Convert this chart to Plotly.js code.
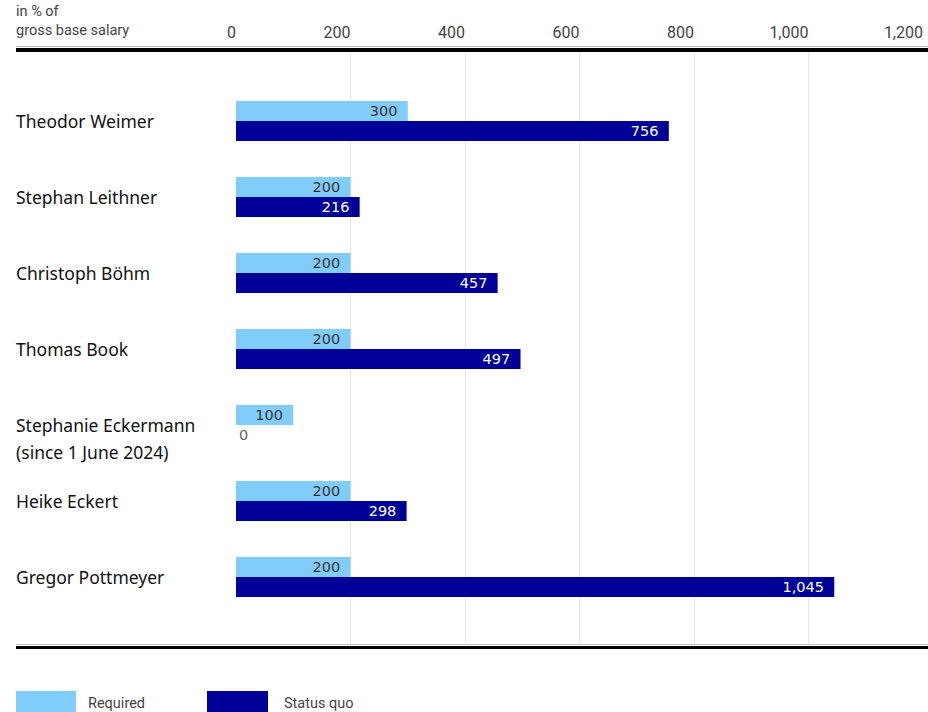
<!DOCTYPE html>
<html>
<head>
<meta charset="utf-8">
<script src="https://cdn.plot.ly/plotly-3.0.1.min.js"></script>
<style>html,body{margin:0;padding:0;background:#fff;}#chart{width:928px;height:712px;}</style>
</head>
<body>
<div id="chart"></div>
<script>
const categories = [
  "Theodor Weimer",
  "Stephan Leithner",
  "Christoph Böhm",
  "Thomas Book",
  "Stephanie Eckermann<br>(since 1 June 2024)",
  "Heike Eckert",
  "Gregor Pottmeyer"
];
const required = [300, 200, 200, 200, 100, 200, 200];
const statusQuo = [756, 216, 457, 497, 0, 298, 1045];
const tickVals = [0, 200, 400, 600, 800, 1000, 1200];
const seriesNames = ["Required", "Status quo"];
const axisNote = "in % of<br>gross base salary";

const W = 928, H = 712;
const M = {l: 236, r: 5, t: 52, b: 67};
const PW = W - M.l - M.r, PH = H - M.t - M.b;
const px = x => (x - M.l) / PW;
const py = y => (H - M.b - y) / PH;

const lightBlue = "#80CDFB";
const navy = "#000099";
const fmt = v => v.toLocaleString("en-US");
const barFont = "DejaVu Sans, sans-serif";

const traces = [
  {
    type: "bar", orientation: "h", name: seriesNames[0],
    y: categories, x: required,
    text: required.map(v => fmt(v) + "\u2002"), textposition: "inside", insidetextanchor: "end",
    constraintext: "none",
    textfont: {family: barFont, size: 14.5, color: "#333333"},
    marker: {color: lightBlue, line: {width: 0}},
    hoverinfo: "x+y", showlegend: false, cliponaxis: false
  },
  {
    type: "bar", orientation: "h", name: seriesNames[1],
    y: categories, x: statusQuo,
    text: statusQuo.map(v => v === 0 ? fmt(v) : fmt(v) + "\u2002"),
    textposition: statusQuo.map(v => v === 0 ? "outside" : "inside"),
    insidetextanchor: "end", constraintext: "none",
    insidetextfont: {family: barFont, size: 14.5, color: "#ffffff"},
    outsidetextfont: {family: barFont, size: 14.5, color: "#666666"},
    marker: {color: navy, line: {width: 0}},
    hoverinfo: "x+y", showlegend: false, cliponaxis: false
  }
];

const annotations = [];
categories.forEach(c => {
  c.split("<br>").forEach((line, k) => {
    annotations.push({
      xref: "paper", yref: "y", x: px(14), y: c,
      xanchor: "left", yanchor: "middle", yshift: -27 * k, align: "left",
      text: line, showarrow: false,
      font: {family: "Noto Sans, sans-serif", size: 17.5, color: "#111111"}
    });
  });
});
annotations.push({
  xref: "paper", yref: "paper", x: px(14), y: py(1),
  xanchor: "left", yanchor: "top", align: "left",
  text: axisNote, showarrow: false,
  font: {family: "Roboto, sans-serif", size: 14.5, color: "#444444"}
});
annotations.push({
  xref: "paper", yref: "paper", x: px(86), y: py(703),
  xanchor: "left", yanchor: "middle", text: seriesNames[0], showarrow: false,
  font: {family: "Roboto, sans-serif", size: 14.5, color: "#444444"}
});
annotations.push({
  xref: "paper", yref: "paper", x: px(282), y: py(703),
  xanchor: "left", yanchor: "middle", text: seriesNames[1], showarrow: false,
  font: {family: "Roboto, sans-serif", size: 14.5, color: "#444444"}
});

const shapes = [
  {type: "line", xref: "paper", yref: "paper", x0: px(16), x1: px(928), y0: py(46.5), y1: py(46.5), line: {color: "#bbbbbb", width: 1}},
  {type: "line", xref: "paper", yref: "paper", x0: px(16), x1: px(928), y0: py(50), y1: py(50), line: {color: "#000000", width: 4}},
  {type: "line", xref: "paper", yref: "paper", x0: px(16), x1: px(928), y0: py(644.5), y1: py(644.5), line: {color: "#bbbbbb", width: 1}},
  {type: "line", xref: "paper", yref: "paper", x0: px(16), x1: px(928), y0: py(647.5), y1: py(647.5), line: {color: "#000000", width: 3}},
  {type: "rect", xref: "paper", yref: "paper", x0: px(16), x1: px(76), y0: py(712), y1: py(691), fillcolor: lightBlue, line: {width: 0}},
  {type: "rect", xref: "paper", yref: "paper", x0: px(207), x1: px(268), y0: py(712), y1: py(691), fillcolor: navy, line: {width: 0}}
];

const layout = {
  width: W, height: H,
  margin: M,
  paper_bgcolor: "#ffffff", plot_bgcolor: "#ffffff",
  barmode: "group", bargap: 0.474, bargroupgap: 0,
  showlegend: false,
  xaxis: {
    side: "top", range: [0, 1200], tickvals: tickVals, ticktext: tickVals.map(fmt),
    ticklabelposition: "outside left", ticks: "", ticklen: 0,
    showgrid: true, gridcolor: "#e6e6e6", gridwidth: 1,
    zeroline: false, showline: false,
    tickfont: {family: "Roboto, sans-serif", size: 16, color: "#444444"},
    ticklabelstandoff: 10, fixedrange: true
  },
  yaxis: {
    type: "category", categoryorder: "array", categoryarray: categories,
    range: [6.895, -0.908], showticklabels: false, showgrid: false,
    zeroline: false, showline: false, ticks: "", fixedrange: true
  },
  annotations: annotations,
  shapes: shapes
};

Plotly.newPlot("chart", traces, layout, {displayModeBar: false, staticPlot: true});
</script>
</body>
</html>
